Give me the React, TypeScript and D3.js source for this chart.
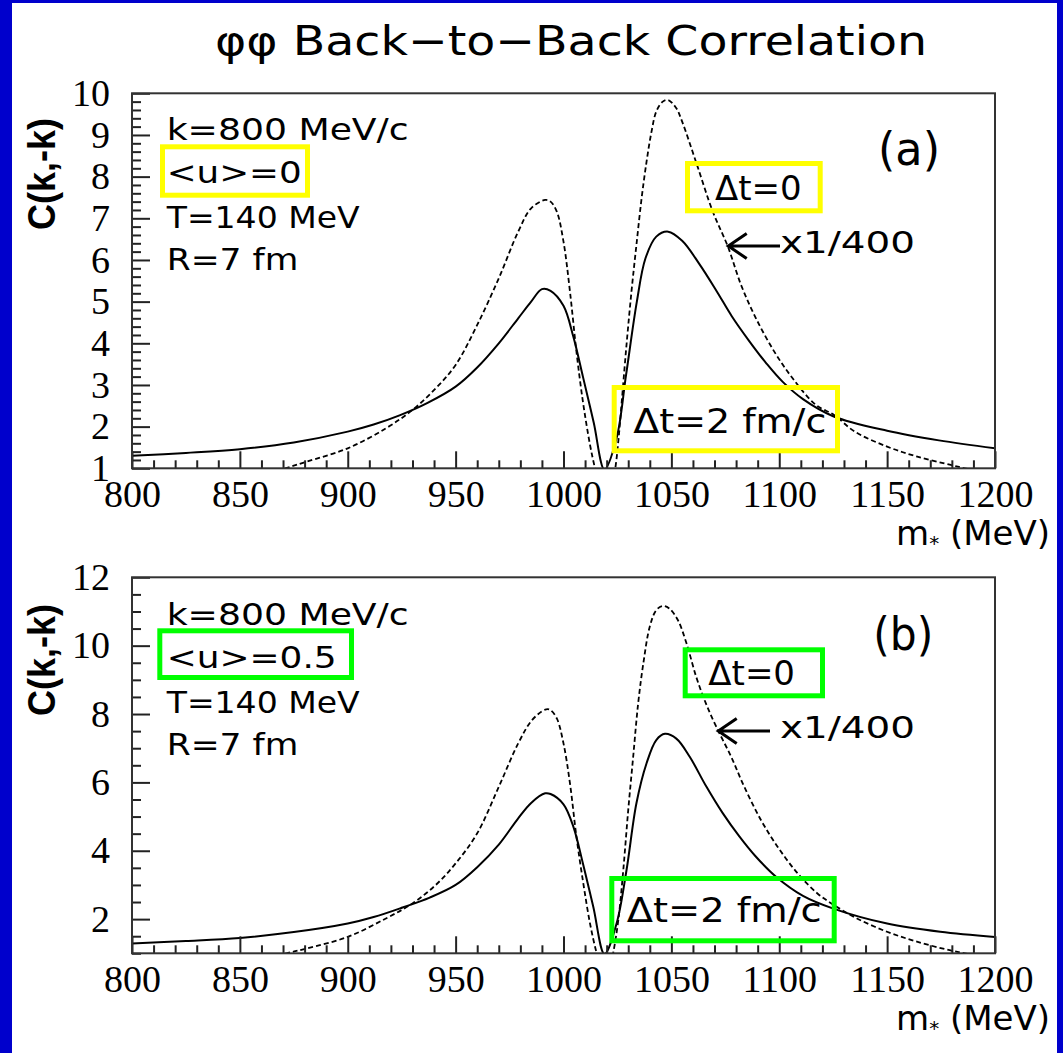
import React, { useRef, useEffect } from "react";
import * as d3 from "d3";

// m* (MeV) and C(k,-k) values
const massSolidA = [800, 825, 850, 875, 900, 912, 924, 937, 950, 960, 970, 979, 985, 990, 994, 1000, 1004.6, 1009, 1014, 1019, 1024.6, 1029, 1034, 1038, 1043, 1048.5, 1055, 1063, 1071, 1078, 1086, 1094, 1101.5, 1111, 1125, 1150, 1174, 1200];
const corrSolidA = [1.3, 1.37, 1.46, 1.62, 1.88, 2.05, 2.27, 2.57, 2.96, 3.42, 4.0, 4.6, 5.0, 5.3, 5.26, 4.9, 4.15, 3.2, 2.1, 0.97, 1.72, 3.24, 5.0, 6.04, 6.56, 6.68, 6.46, 5.9, 5.25, 4.65, 4.06, 3.52, 3.08, 2.66, 2.25, 1.9, 1.67, 1.48];

const massDashedA = [860, 871, 881, 900, 917.7, 930, 940.8, 950, 960, 970, 979, 985, 991.5, 994, 996.9, 1000, 1003, 1006, 1009, 1012.3, 1014.6, 1017, 1019.5, 1022, 1024, 1025.5, 1027, 1029.2, 1031.5, 1033.8, 1036.2, 1038.5, 1040.8, 1043, 1046, 1048.5, 1052.3, 1055, 1061.5, 1069.2, 1076.2, 1082.3, 1089.2, 1097.7, 1106.2, 1117, 1125.4, 1135, 1150, 1164, 1179.5, 1186, 1195];
const corrDashedA = [0.85, 1.0, 1.16, 1.48, 1.96, 2.4, 2.92, 3.48, 4.44, 5.56, 6.68, 7.24, 7.44, 7.4, 7.16, 6.44, 5.24, 3.8, 2.6, 1.56, 1.0, 0.5, 0.2, 0.5, 1.0, 1.7, 2.6, 3.96, 5.24, 6.36, 7.48, 8.36, 9.08, 9.56, 9.8, 9.84, 9.64, 9.32, 8.34, 7.16, 6.32, 5.4, 4.6, 3.8, 3.16, 2.52, 2.28, 1.88, 1.52, 1.28, 1.08, 1.0, 0.9];

const massSolidB = [800, 825, 850, 875, 900, 912, 925.4, 938, 950, 960, 970, 979, 985, 991.5, 994, 1000, 1004.6, 1009, 1013.8, 1019, 1024.6, 1029.2, 1033.8, 1038.5, 1043, 1047, 1052.3, 1058.5, 1066, 1073.8, 1081.5, 1089, 1098.5, 1111, 1125.4, 1150, 1174.6, 1200];
const corrSolidB = [1.29, 1.36, 1.45, 1.62, 1.87, 2.06, 2.34, 2.63, 3.0, 3.52, 4.18, 4.95, 5.4, 5.68, 5.66, 5.36, 4.7, 3.63, 2.36, 0.98, 1.87, 3.43, 5.39, 6.56, 7.24, 7.42, 7.28, 6.75, 5.9, 5.1, 4.42, 3.84, 3.24, 2.68, 2.3, 1.87, 1.63, 1.48];

const massDashedB = [860, 871.5, 880.8, 900, 917.7, 930, 940.8, 950, 960, 970, 979, 985.4, 991.5, 993.8, 996.9, 1000, 1003, 1006, 1009.2, 1012.3, 1015.4, 1018, 1020.5, 1023, 1025.4, 1027.7, 1030, 1032.3, 1034.6, 1037, 1040, 1043, 1046, 1049, 1053, 1057, 1061.5, 1066, 1070.8, 1077.7, 1083.8, 1091.5, 1099.2, 1108.5, 1117.7, 1125.4, 1136, 1150, 1163.8, 1179, 1186, 1195];
const corrDashedB = [0.85, 1.0, 1.14, 1.48, 2.02, 2.46, 3.0, 3.63, 4.51, 5.87, 7.14, 7.82, 8.13, 8.12, 7.87, 7.14, 5.97, 4.41, 3.04, 1.87, 1.0, 0.5, 0.3, 1.0, 1.97, 3.43, 5.19, 6.75, 8.31, 9.48, 10.56, 11.04, 11.16, 11.09, 10.75, 10.07, 9.09, 8.31, 7.63, 6.75, 5.87, 4.9, 4.12, 3.34, 2.75, 2.41, 2.02, 1.63, 1.34, 1.09, 1.0, 0.9];

const xTicksMajor = [800, 850, 900, 950, 1000, 1050, 1100, 1150, 1200];
const yTicksMajorA = [1, 2, 3, 4, 5, 6, 7, 8, 9, 10];
const yTicksMajorB = [2, 4, 6, 8, 10, 12];

const paramLines = ["k=800 MeV/c", "<u>=0", "T=140 MeV", "R=7 fm"];
const paramLinesB = ["k=800 MeV/c", "<u>=0.5", "T=140 MeV", "R=7 fm"];

const SERIF = "'Liberation Serif', 'Times New Roman', serif";
const SANS = "'DejaVu Sans', Verdana, sans-serif";

function zip(a, b) {
  return a.map((v, i) => [v, b[i]]);
}

function App() {
  const svgRef = useRef(null);

  useEffect(() => {
    const svg = d3.select(svgRef.current);
    svg.selectAll("*").remove();

    // blue slide border + white page
    svg.append("rect").attr("width", 1063).attr("height", 1053).attr("fill", "#0000cc");
    svg.append("rect").attr("x", 12).attr("y", 3).attr("width", 1045).attr("height", 1050).attr("fill", "#fff");

    const txt = (g, s, x, y, size, width, family = SANS) => {
      const t = g.append("text")
        .attr("x", x)
        .attr("y", y)
        .attr("font-family", family)
        .attr("font-size", size)
        .attr("fill", "#000")
        .text(s);
      if (width) t.attr("textLength", width).attr("lengthAdjust", "spacingAndGlyphs");
      return t;
    };

    txt(svg, "\u03c6\u03c6 Back\u2212to\u2212Back Correlation", 215, 55, 41, 712);

    const panels = [
      {
        id: "a", top: 93.3, bottom: 468.3, yMax: 10, majors: yTicksMajorA, minorStep: 0.2,
        solid: zip(massSolidA, corrSolidA), dashed: zip(massDashedA, corrDashedA),
        color: "#ffff00", lines: paramLines, widths: [242, 135, 193, 131.6],
        baselines: [140, 183.3, 228.3, 270], box1: [160, 144.3, 150, 53.4],
        tag: "(a)", tagPos: [878, 165, 62],
        dt0: [715, 200, 86.7], box2: [685, 161, 137.7, 52.3],
        arrow: [728.3, 246, 780, 746.7], x400: [780, 253.3],
        dt2: [633.3, 433.3, 193], box3: [611.7, 385, 228.3, 68.3],
        yTitle: 174,
      },
      {
        id: "b", top: 577.3, bottom: 953.3, yMax: 12, majors: yTicksMajorB, minorStep: 0.5,
        solid: zip(massSolidB, corrSolidB), dashed: zip(massDashedB, corrDashedB),
        color: "#00ff00", lines: paramLinesB, widths: [242, 170, 193, 131.6],
        baselines: [625, 668.3, 713.3, 755], box1: [157.3, 628.3, 196.7, 51.7],
        tag: "(b)", tagPos: [873.3, 650, 60],
        dt0: [708.3, 685, 86.7], box2: [682.7, 647.3, 142.3, 51],
        arrow: [718.3, 731, 770, 736.7], x400: [780, 738.3],
        dt2: [626.7, 921.7, 195], box3: [609.3, 876, 227.4, 67.3],
        yTitle: 660,
      },
    ];

    const left = 132;
    const right = 995;

    panels.forEach(p => {
      const x = d3.scaleLinear().domain([800, 1200]).range([left, right]);
      const y = d3.scaleLinear().domain([1, p.yMax]).range([p.bottom, p.top]);
      const g = svg.append("g");

      g.append("clipPath").attr("id", "clip-" + p.id)
        .append("rect")
        .attr("x", left).attr("y", p.top)
        .attr("width", right - left).attr("height", p.bottom - p.top);

      const line = d3.line()
        .x(d => x(d[0]))
        .y(d => y(d[1]))
        .curve(d3.curveCatmullRom.alpha(0.5));

      g.append("path")
        .attr("d", line(p.dashed))
        .attr("fill", "none")
        .attr("stroke", "#000")
        .attr("stroke-width", 1.8)
        .attr("stroke-dasharray", "5,3")
        .attr("clip-path", `url(#clip-${p.id})`);

      g.append("path")
        .attr("d", line(p.solid))
        .attr("fill", "none")
        .attr("stroke", "#000")
        .attr("stroke-width", 2)
        .attr("clip-path", `url(#clip-${p.id})`);

      // x axis (ticks inside frame)
      const xMinor = d3.range(800, 1201, 10).filter(v => v % 50 !== 0);
      const gxm = g.append("g").attr("transform", `translate(0,${p.bottom})`)
        .call(d3.axisBottom(x).tickValues(xMinor).tickSize(-8).tickFormat(() => ""));
      const gx = g.append("g").attr("transform", `translate(0,${p.bottom})`)
        .call(d3.axisBottom(x).tickValues(xTicksMajor).tickSize(-17).tickPadding(12).tickFormat(d3.format("d")));

      // y axis
      const nMinor = Math.round((p.yMax - 1) / p.minorStep);
      const yMinor = d3.range(0, nMinor + 1).map(i => 1 + i * p.minorStep)
        .filter(v => !p.majors.some(m => Math.abs(m - v) < 1e-6));
      const gym = g.append("g").attr("transform", `translate(${left},0)`)
        .call(d3.axisLeft(y).tickValues(yMinor).tickSize(-9).tickFormat(() => ""));
      const gy = g.append("g").attr("transform", `translate(${left},0)`)
        .call(d3.axisLeft(y).tickValues(p.majors).tickSize(-18).tickPadding(22).tickFormat(d3.format("d")));

      [gxm, gx, gym, gy].forEach(a => {
        a.select(".domain").remove();
        a.selectAll("line").attr("stroke", "#222").attr("stroke-width", 2);
        a.attr("font-family", SERIF).attr("font-size", 38);
        a.selectAll("text").attr("fill", "#000");
      });

      g.append("rect")
        .attr("x", left).attr("y", p.top)
        .attr("width", right - left).attr("height", p.bottom - p.top)
        .attr("fill", "none").attr("stroke", "#333").attr("stroke-width", 2);

      // y title
      g.append("text")
        .attr("transform", `translate(55,${p.yTitle}) rotate(-90)`)
        .attr("text-anchor", "middle")
        .attr("font-family", "'Liberation Sans', Arial, sans-serif")
        .attr("font-weight", "bold")
        .attr("font-size", 38)
        .attr("textLength", 112)
        .attr("lengthAdjust", "spacingAndGlyphs")
        .text("C(k,-k)");

      // x title  m* (MeV)
      const xt = g.append("text")
        .attr("x", 1050).attr("y", p.bottom + 77)
        .attr("text-anchor", "end")
        .attr("font-family", SANS)
        .attr("font-size", 34);
      xt.append("tspan").text("m");
      xt.append("tspan").attr("font-size", 20).attr("dy", 5).text("*");
      xt.append("tspan").attr("dy", -5).text(" (MeV)");

      // parameter list
      p.lines.forEach((s, i) => txt(g, s, 166.7, p.baselines[i], 30, p.widths[i]));

      const box = (b) => g.append("rect")
        .attr("x", b[0] + 2.5).attr("y", b[1] + 2.5)
        .attr("width", b[2] - 5).attr("height", b[3] - 5)
        .attr("fill", "none").attr("stroke", p.color).attr("stroke-width", 5);

      box(p.box1);
      box(p.box2);
      box(p.box3);

      txt(g, p.tag, p.tagPos[0], p.tagPos[1], 46, p.tagPos[2]);
      txt(g, "\u0394t=0", p.dt0[0], p.dt0[1], 33, p.dt0[2]);
      txt(g, "\u0394t=2 fm/c", p.dt2[0], p.dt2[1], 33, p.dt2[2]);
      txt(g, "x1/400", p.x400[0], p.x400[1], 31, 135);

      // arrow pointing to the dashed curve
      const [tx, ty, ex, hx] = p.arrow;
      g.append("path")
        .attr("d", `M${ex},${ty}L${tx},${ty}M${hx},${ty - 12.5}L${tx},${ty}L${hx},${ty + 12.5}`)
        .attr("fill", "none").attr("stroke", "#000").attr("stroke-width", 3);
    });
  }, []);

  return (
    <svg
      ref={svgRef}
      width={1063}
      height={1053}
      style={{ position: "absolute", left: 0, top: 0, display: "block" }}
    ></svg>
  );
}

export default App;
